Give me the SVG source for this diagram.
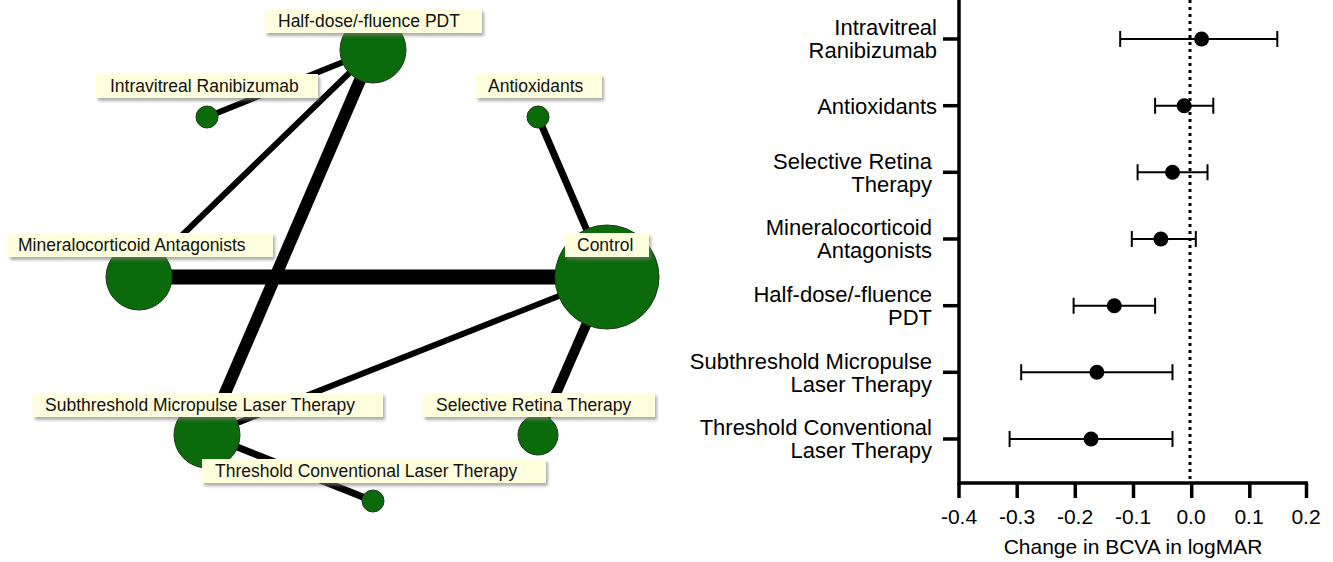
<svg xmlns="http://www.w3.org/2000/svg" width="1333" height="562" viewBox="0 0 1333 562">
<defs>
<filter id="sh" x="-10%" y="-30%" width="120%" height="180%">
<feDropShadow dx="2" dy="3" stdDeviation="1.5" flood-color="#777" flood-opacity="0.6"/>
</filter>
</defs>
<style>
.edge{stroke:#000;stroke-linecap:butt;fill:none}
.node{fill:#0b6b0b;stroke:#1d3a1d;stroke-width:1}
.lbox{fill:#ffffdd;filter:url(#sh)}
.ltxt{font-family:"Liberation Sans",Arial,sans-serif;font-size:17.5px;fill:#111}
.ax{stroke:#000;stroke-width:3.5;fill:none}
.ci{stroke:#000;stroke-width:2;fill:none}
.dot{fill:#000}
.yl{font-family:"Liberation Sans",Arial,sans-serif;font-size:22px;fill:#000;text-anchor:end}
.xl{font-family:"Liberation Sans",Arial,sans-serif;font-size:21px;fill:#000;text-anchor:middle}
</style>
<rect width="1333" height="562" fill="#fff"/>
<g id="connectors">
<line class="edge" x1="373" y1="50" x2="207" y2="117" stroke-width="6"/>
<line class="edge" x1="373" y1="50" x2="139" y2="277" stroke-width="6"/>
<line class="edge" x1="373" y1="50" x2="207" y2="435" stroke-width="12"/>
<line class="edge" x1="139" y1="277" x2="607" y2="277" stroke-width="15"/>
<line class="edge" x1="538" y1="117" x2="607" y2="277" stroke-width="7"/>
<line class="edge" x1="607" y1="277" x2="207" y2="435" stroke-width="6"/>
<line class="edge" x1="607" y1="277" x2="538" y2="435" stroke-width="10"/>
<line class="edge" x1="207" y1="435" x2="373" y2="501" stroke-width="7"/>
</g>
<g id="node-halfdose"><circle class="node" cx="373" cy="50" r="33"/></g>
<g id="node-ranibizumab"><circle class="node" cx="207" cy="117" r="11"/></g>
<g id="node-antioxidants"><circle class="node" cx="538" cy="117" r="11"/></g>
<g id="node-mineralocorticoid"><circle class="node" cx="139" cy="277" r="33"/></g>
<g id="node-control"><circle class="node" cx="607" cy="277" r="52"/></g>
<g id="node-subthreshold"><circle class="node" cx="207" cy="435" r="33"/></g>
<g id="node-selective"><circle class="node" cx="538" cy="435" r="20"/></g>
<g id="node-threshold"><circle class="node" cx="373" cy="501" r="11"/></g>
<g id="labels">
<g id="label-halfdose"><rect class="lbox" x="265" y="9" width="217" height="24"/><text class="ltxt" x="278" y="26.5">Half-dose/-fluence PDT</text></g>
<g id="label-ranibizumab"><rect class="lbox" x="96" y="74" width="222" height="24"/><text class="ltxt" x="110" y="91.5">Intravitreal Ranibizumab</text></g>
<g id="label-antioxidants"><rect class="lbox" x="476" y="74" width="126" height="24"/><text class="ltxt" x="488" y="91.5">Antioxidants</text></g>
<g id="label-mineralocorticoid"><rect class="lbox" x="8" y="233" width="265" height="24"/><text class="ltxt" x="18" y="250.5">Mineralocorticoid Antagonists</text></g>
<g id="label-control"><rect class="lbox" x="565" y="233" width="84" height="24"/><text class="ltxt" x="577" y="250.5">Control</text></g>
<g id="label-subthreshold"><rect class="lbox" x="33" y="393" width="350" height="24"/><text class="ltxt" x="45" y="410.5">Subthreshold Micropulse Laser Therapy</text></g>
<g id="label-selective"><rect class="lbox" x="423" y="393" width="232" height="24"/><text class="ltxt" x="436" y="410.5">Selective Retina Therapy</text></g>
<g id="label-threshold"><rect class="lbox" x="202" y="459" width="344" height="24"/><text class="ltxt" x="215" y="476.5">Threshold Conventional Laser Therapy</text></g>
</g>
<g id="forest-plot">
<line x1="1190" y1="0" x2="1190" y2="482" stroke="#000" stroke-width="3" stroke-dasharray="3,4"/>
<path class="ax" d="M959,0 V483 H1308"/>
<g class="ax">
<line x1="943" y1="39" x2="959" y2="39"/>
<line x1="943" y1="105.7" x2="959" y2="105.7"/>
<line x1="943" y1="172.3" x2="959" y2="172.3"/>
<line x1="943" y1="239" x2="959" y2="239"/>
<line x1="943" y1="305.7" x2="959" y2="305.7"/>
<line x1="943" y1="372.3" x2="959" y2="372.3"/>
<line x1="943" y1="439" x2="959" y2="439"/>
<line x1="959" y1="483" x2="959" y2="498"/>
<line x1="1017.2" y1="483" x2="1017.2" y2="498"/>
<line x1="1075.3" y1="483" x2="1075.3" y2="498"/>
<line x1="1133.5" y1="483" x2="1133.5" y2="498"/>
<line x1="1191.7" y1="483" x2="1191.7" y2="498"/>
<line x1="1249.8" y1="483" x2="1249.8" y2="498"/>
<line x1="1306.5" y1="483" x2="1306.5" y2="498"/>
</g>
<g class="xl">
<text x="959" y="524">-0.4</text>
<text x="1017" y="524">-0.3</text>
<text x="1075" y="524">-0.2</text>
<text x="1133" y="524">-0.1</text>
<text x="1191" y="524">0.0</text>
<text x="1249" y="524">0.1</text>
<text x="1306" y="524">0.2</text>
<text x="1133" y="554">Change in BCVA in logMAR</text>
</g>
<g class="yl">
<text x="937" y="35">Intravitreal</text>
<text x="937" y="58">Ranibizumab</text>
<text x="937" y="113.5">Antioxidants</text>
<text x="932" y="168.5">Selective Retina</text>
<text x="932" y="191.5">Therapy</text>
<text x="932" y="235">Mineralocorticoid</text>
<text x="932" y="258">Antagonists</text>
<text x="932" y="301.5">Half-dose/-fluence</text>
<text x="932" y="324.5">PDT</text>
<text x="932" y="368.5">Subthreshold Micropulse</text>
<text x="932" y="391.5">Laser Therapy</text>
<text x="932" y="435">Threshold Conventional</text>
<text x="932" y="458">Laser Therapy</text>
</g>
<g id="estimates">
<path class="ci" d="M1120.2,39 H1277.3 M1120.2,31 V47 M1277.3,31 V47"/>
<circle class="dot" cx="1201.6" cy="39" r="7.5"/>
<path class="ci" d="M1155.1,105.7 H1213.3 M1155.1,97.7 V113.7 M1213.3,97.7 V113.7"/>
<circle class="dot" cx="1184.2" cy="105.7" r="7.5"/>
<path class="ci" d="M1137.6,172.3 H1207.5 M1137.6,164.3 V180.3 M1207.5,164.3 V180.3"/>
<circle class="dot" cx="1172.5" cy="172.3" r="7.5"/>
<path class="ci" d="M1131.8,239 H1195.8 M1131.8,231 V247 M1195.8,231 V247"/>
<circle class="dot" cx="1160.9" cy="239" r="7.5"/>
<path class="ci" d="M1073.6,305.7 H1155.1 M1073.6,297.7 V313.7 M1155.1,297.7 V313.7"/>
<circle class="dot" cx="1114.3" cy="305.7" r="7.5"/>
<path class="ci" d="M1021.2,372.3 H1172.5 M1021.2,364.3 V380.3 M1172.5,364.3 V380.3"/>
<circle class="dot" cx="1096.9" cy="372.3" r="7.5"/>
<path class="ci" d="M1009.6,439 H1172.5 M1009.6,431 V447 M1172.5,431 V447"/>
<circle class="dot" cx="1091.1" cy="439" r="7.5"/>
</g>
</g>
</svg>
